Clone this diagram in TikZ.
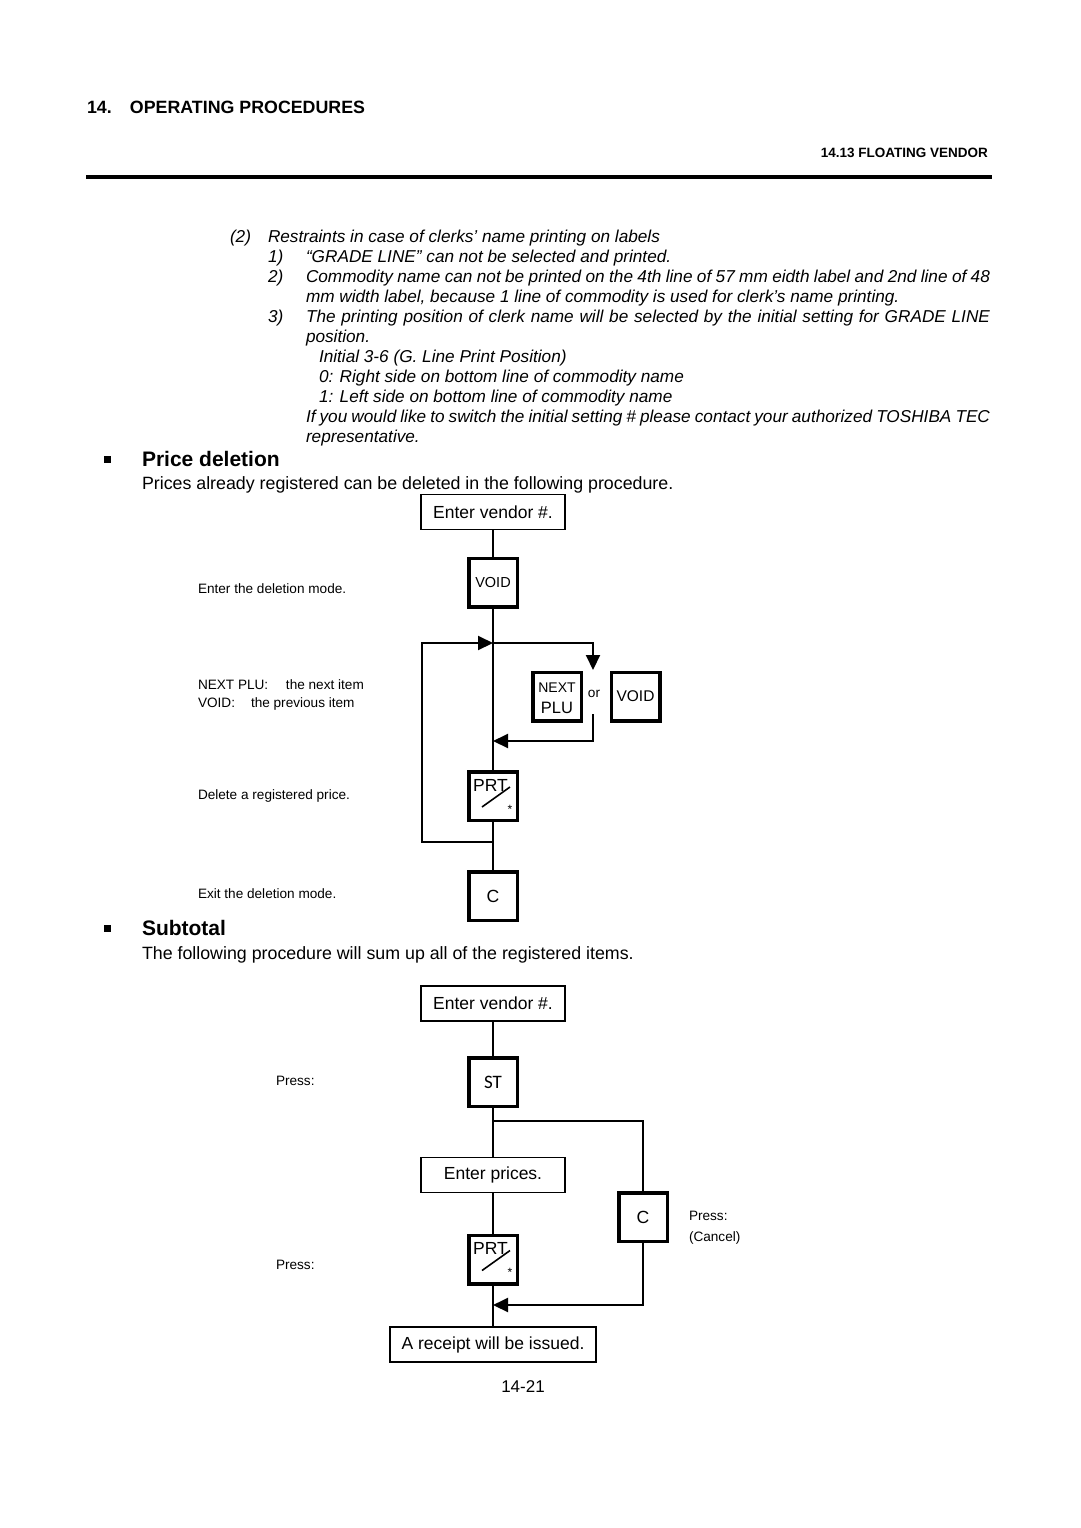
\documentclass[tikz,border=0pt]{standalone}
\usepackage{fontspec}
\setmainfont{Liberation Sans}
\newfontfamily\stfont{Carlito}
\usetikzlibrary{arrows.meta}
\newcommand{\fsz}[1]{\fontsize{#1}{#1}\selectfont}
\newcommand{\prtmark}[1]{%
  \node[anchor=base west,inner sep=0pt,font=\fsz{17.5}] at ([shift={(-20,-5)}]#1.center) {PRT};
  \draw[line width=1.6pt] ([shift={(-11,11)}]#1.center) -- ([shift={(17,-9)}]#1.center);
  \node[inner sep=0pt,font=\fsz{12}] at ([shift={(17,13)}]#1.center) {*};
}
\begin{document}
\begin{tikzpicture}[x=1pt,y=-1pt,
  txt/.style={anchor=base west,inner sep=0pt,outer sep=0pt},
  ital/.style={txt,font=\fsz{17.2}\itshape},
  body/.style={txt,font=\fsz{17.8}},
  note/.style={txt,font=\fsz{13.6}},
  head/.style={txt,font=\fsz{21}\bfseries},
  tbox/.style={draw,line width=1.6pt,minimum width=144.5pt,minimum height=35pt,inner sep=0pt,font=\fsz{17.5}},
  key/.style={draw,line width=3.5pt,minimum width=48.5pt,minimum height=48.5pt,inner sep=0pt,font=\fsz{15}},
  conn/.style={line width=2pt},
  arr/.style={conn,-{Triangle[length=15pt,width=14pt]}},
]
\fill[white] (0,0) rectangle (1080,1528);
\useasboundingbox (0,0) rectangle (1080,1528);

% header
\node[txt,font=\fsz{17.8}\bfseries] (hd) at (87,113.5) {\makebox[43pt][l]{14.}OPERATING PROCEDURES};
\node[anchor=base east,inner sep=0pt,font=\fsz{13.5}\bfseries] (sub) at (988,157) {14.13 FLOATING VENDOR};
\draw[line width=3.5pt] (86,177) -- (992,177);

% italic block
\node[ital] (l1a) at (230,242) {(2)};
\node[ital] (l1b) at (268,242) {Restraints in case of clerks’ name printing on labels};
\node[ital] (l2a) at (268,262) {1)};
\node[ital] (l2b) at (306,262) {“GRADE LINE” can not be selected and printed.};
\node[ital] (l3a) at (268,282) {2)};
\node[ital] (l3b) at (306,282) {\makebox[684pt][s]{Commodity name can not be printed on the 4th line of 57 mm eidth label and 2nd line of 48}};
\node[ital] (l4) at (306,302) {mm width label, because 1 line of commodity is used for clerk’s name printing.};
\node[ital] (l5a) at (268,322) {3)};
\node[ital] (l5b) at (306,322) {\makebox[684pt][s]{The printing position of clerk name will be selected by the initial setting for GRADE LINE}};
\node[ital] (l6) at (306,342) {position.};
\node[ital] (l7) at (319,362) {Initial 3-6 (G. Line Print Position)};
\node[ital] (l8) at (319,382) {0: Right side on bottom line of commodity name};
\node[ital] (l9) at (319,402) {1: Left side on bottom line of commodity name};
\node[ital] (l10) at (306,422) {\makebox[684pt][s]{If you would like to switch the initial setting \# please contact your authorized TOSHIBA TEC}};
\node[ital] (l11) at (306,442) {representative.};

% Price deletion
\fill (103.5,455.5) rectangle (110.5,462.5);
\node[head] (h1) at (142,466.5) {Price deletion};
\node[body] (p1) at (142,489) {Prices already registered can be deleted in the following procedure.};

\node[tbox] (ev1) at (493,512) {Enter vendor \#.};
\node[key,font=\fsz{14.5}] (void1) at (493,582.5) {VOID};
\node[key] (next) at (557,696.5) {};
\node[txt,anchor=base,font=\fsz{14}] (nextt) at ([shift={(0,-3.8)}]next.center) {NEXT};
\node[txt,anchor=base,font=\fsz{16.5}] (plut) at ([shift={(0,16.8)}]next.center) {PLU};
\node[inner sep=0pt,font=\fsz{13.6}] (or) at (594,694) {or};
\node[key,font=\fsz{15.5}] (void2) at (635.5,696.5) {VOID};
\node[key] (prt1) at (493,796) {};
\prtmark{prt1}
\node[key,font=\fsz{17.6}] (c1) at (493,896) {C};

\coordinate (j1) at (493,643);
\coordinate (lt) at (422,643);
\coordinate (ortop) at (593,670);
\coordinate (orbot) at (593,714);
\coordinate (jr) at (493,741);
\coordinate (jb) at (493,842);

\draw[conn] (ev1) -- (void1);
\draw[conn] (void1) -- (prt1);
\draw[conn] (prt1) -- (c1);
\draw[arr] (jb) -| (lt) -- (j1);
\draw[arr] (j1) -| (ortop);
\draw[arr] (orbot) |- (jr);

\node[note] (n1) at (198,593) {Enter the deletion mode.};
\node[note] (n2) at (198,689) {\makebox[88pt][l]{NEXT PLU:}the next item};
\node[note] (n3) at (198,707) {\makebox[53pt][l]{VOID:}the previous item};
\node[note] (n4) at (198,799) {Delete a registered price.};
\node[note] (n5) at (198,898) {Exit the deletion mode.};

% Subtotal
\fill (103.5,924.5) rectangle (110.5,931.5);
\node[head] (h2) at (142,935.5) {Subtotal};
\node[body] (p2) at (142,959) {The following procedure will sum up all of the registered items.};

\node[tbox] (ev2) at (493,1003.5) {Enter vendor \#.};
\node[key,font=\fsz{19}\stfont] (st) at (493,1082) {ST};
\node[tbox] (ep) at (493,1175) {Enter prices.};
\node[key] (prt2) at (493,1259.5) {};
\prtmark{prt2}
\node[key,font=\fsz{17.6}] (c2) at (643,1217) {C};
\node[tbox,minimum width=206.5pt] (rc) at (493,1344.5) {A receipt will be issued.};

\coordinate (jst) at (493,1121);
\coordinate (jrc) at (493,1305);
\draw[conn] (ev2) -- (st);
\draw[conn] (st) -- (ep);
\draw[conn] (ep) -- (prt2);
\draw[conn] (prt2) -- (rc);
\draw[conn] (jst) -| (c2.north);
\draw[arr] (c2.south) |- (jrc);

\node[note] (n6) at (276,1085) {Press:};
\node[note] (n7) at (276,1269) {Press:};
\node[note] (n8) at (689,1220) {Press:};
\node[note] (n9) at (689,1241) {(Cancel)};

\node[anchor=base,inner sep=0pt,font=\fsz{17}] (pg) at (523,1392) {14-21};
\end{tikzpicture}
\end{document}
